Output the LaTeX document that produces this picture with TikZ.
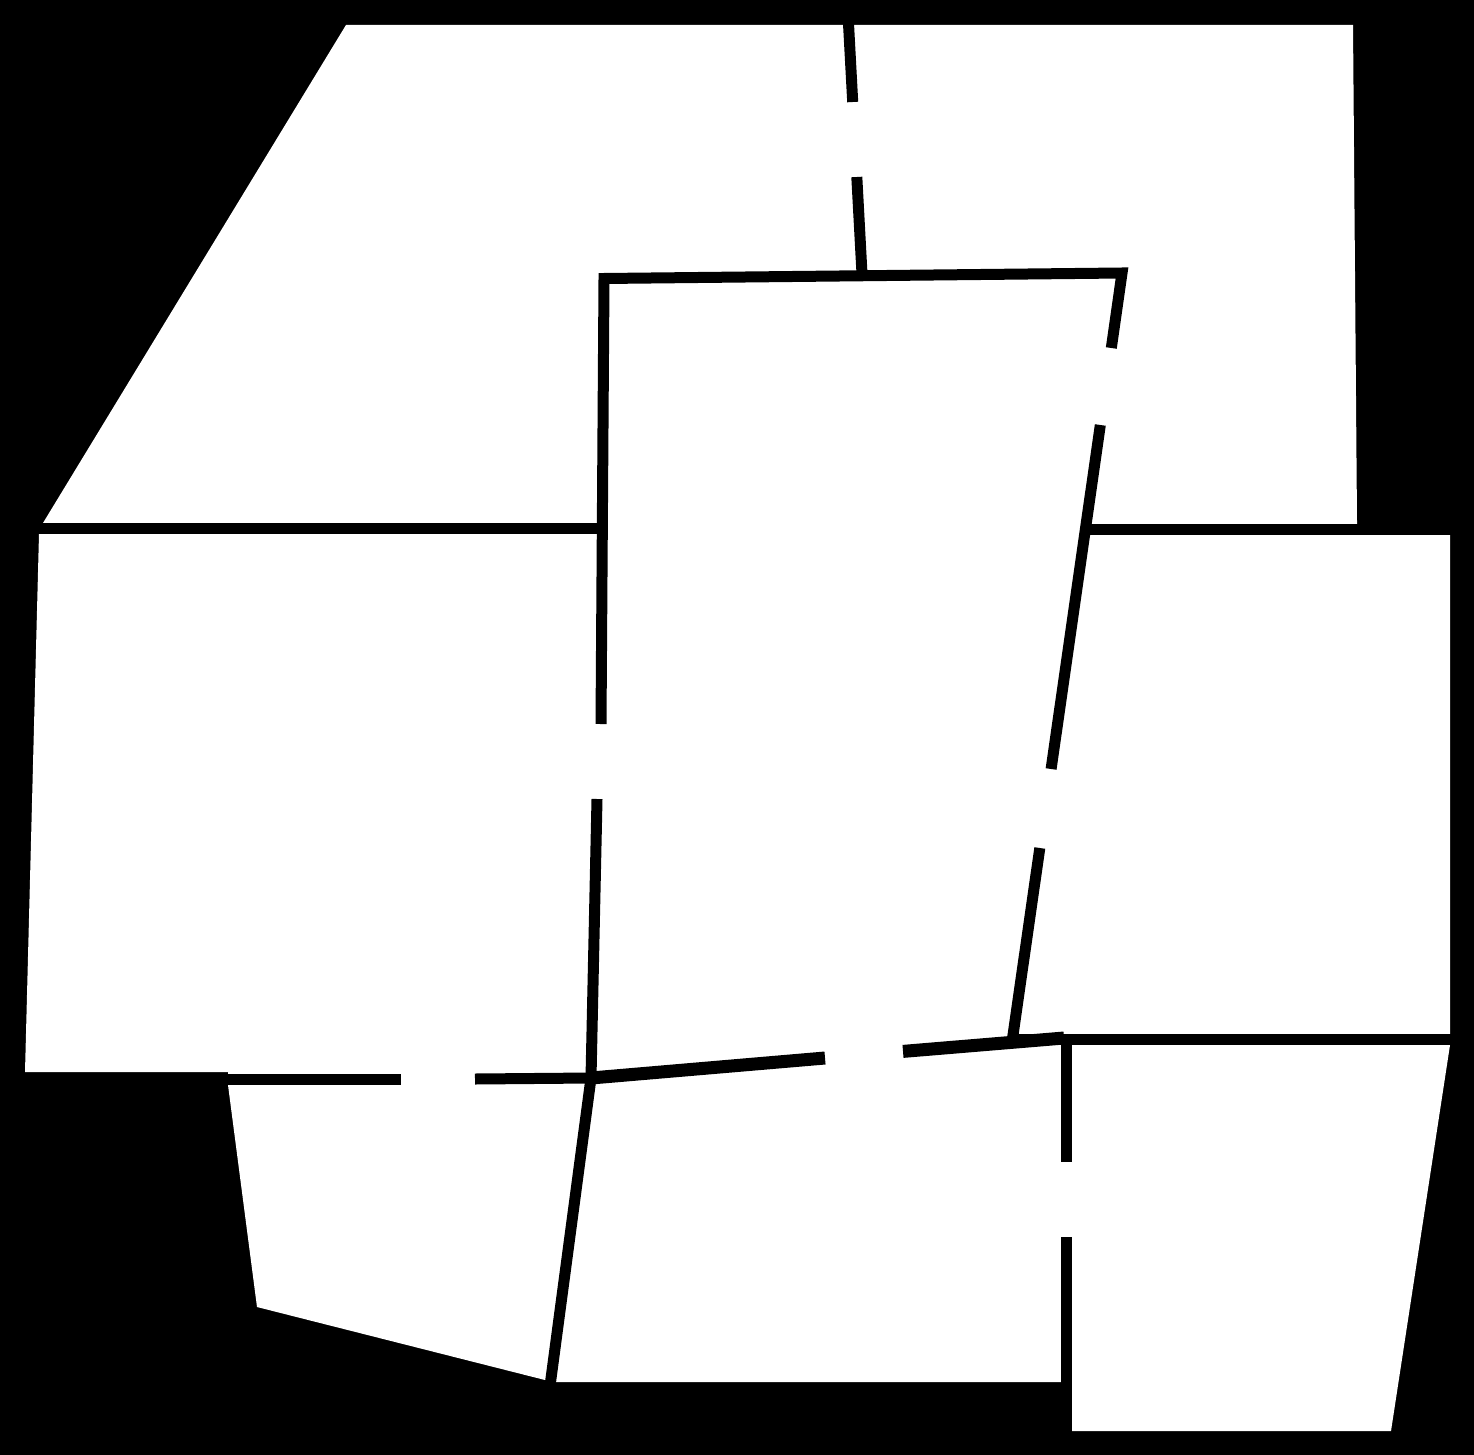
\documentclass[tikz,border=0pt]{standalone}
\begin{document}
\begin{tikzpicture}[x=1pt,y=-1pt,wall/.style={line width=11pt},heavywall/.style={line width=13pt}]
  \useasboundingbox (0,0) rectangle (1474,1455);
  \fill[black] (0,0) rectangle (1474,1455);
  \fill[white] (346,25) -- (1353,25) -- (1357,523) -- (1357,529) -- (1450,529) -- (1450,1045) -- (1391,1431)
    -- (1072,1431) -- (1072,1382) -- (548,1382) -- (545,1380) -- (257,1307) -- (228,1085)
    -- (228,1072) -- (25,1072) -- (39,534) -- (43,523) -- cycle;
  \draw[wall] (30,528.5) -- (604,528.5);
  \draw[wall] (1085,529) -- (1460,529);
  \draw[wall] (848.3,20) -- (852.7,102);
  \draw[wall] (856.8,177) -- (862,274);
  \draw[wall,line join=miter] (601,724) -- (604,278.5) -- (1122,273) -- (1111.3,348);
  \draw[wall] (1100.3,425) -- (1051.1,769);
  \draw[wall] (1039.8,848) -- (1012,1042);
  \draw[wall] (597,799) -- (591,1078) -- (550,1386);
  \draw[wall] (215,1079.5) -- (401,1079.5);
  \draw[wall] (475,1079) -- (591,1078);
  \draw[heavywall] (591,1078) -- (825,1058);
  \draw[heavywall] (903,1051.4) -- (1064,1038);
  \draw[wall] (1013,1039.5) -- (1460,1039.5);
  \draw[wall] (1066.5,1039) -- (1066.5,1162);
  \draw[wall] (1066.5,1237) -- (1066.5,1440);
\end{tikzpicture}
\end{document}
